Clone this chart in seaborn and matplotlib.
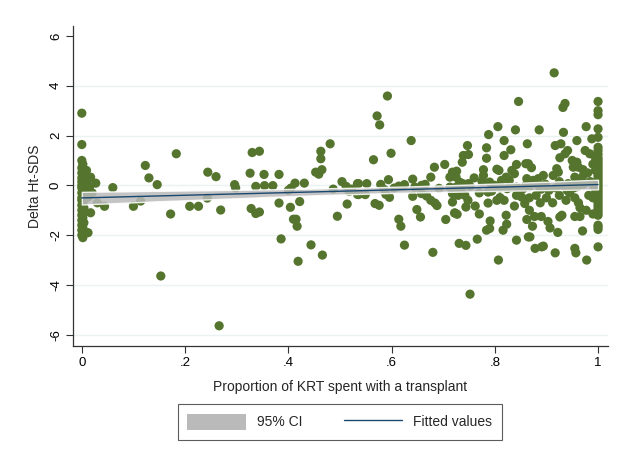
import numpy as np
import pandas as pd
import matplotlib
matplotlib.use("Agg")
import matplotlib.pyplot as plt
import seaborn as sns
from matplotlib.patches import Patch
from matplotlib.lines import Line2D

# values, grouped by region of the x axis
x_zero = [0.0, 0.0, 0.0, 0.002, 0.0, 0.004, 0.0, 0.003, 0.0, 0.005, 0.0, 0.002,
          0.0, 0.004, 0.0, 0.002, 0.006, 0.0, 0.003, 0.0, 0.005, 0.0, 0.002, 0.0,
          0.004, 0.0, 0.003, 0.0, 0.002, 0.0, 0.004, 0.0, 0.002, 0.0, 0.003, 0.0, 0.002]
y_zero = [2.9, 1.64, 1.0, 0.85, 0.7, 0.6, 0.5, 0.4, 0.3, 0.2, 0.15, 0.1,
          0.0, -0.05, -0.1, -0.2, -0.25, -0.3, -0.4, -0.5, -0.55, -0.6, -0.7, -0.8,
          -0.9, -1.0, -1.1, -1.2, -1.3, -1.4, -1.5, -1.6, -1.7, -1.8, -1.9, -2.0, -2.1]

x_low = [0.009, 0.017, 0.027, 0.015, 0.012, 0.017, 0.012, 0.03, 0.044, 0.06, 0.01, 0.02,
         0.1, 0.114, 0.123, 0.13, 0.146, 0.153, 0.172, 0.183, 0.209, 0.226, 0.243, 0.244,
         0.26, 0.269, 0.266, 0.296, 0.298, 0.326, 0.33, 0.344, 0.337, 0.328, 0.337, 0.344,
         0.353, 0.354, 0.37, 0.382, 0.382, 0.386, 0.4, 0.405, 0.404, 0.413, 0.422, 0.41,
         0.415, 0.417, 0.419, 0.431, 0.444, 0.466, 0.453, 0.459, 0.465, 0.463, 0.463, 0.481,
         0.487, 0.495, 0.504, 0.512, 0.518, 0.523, 0.514, 0.534, 0.534]
y_low = [0.6, 0.33, 0.09, -0.07, -0.47, -1.1, -1.9, -0.7, -0.84, -0.09, 0.15, -0.3,
         -0.84, -0.63, 0.8, 0.3, 0.03, -3.64, -1.15, 1.27, -0.84, -0.84, -0.51, 0.53,
         0.35, -0.99, -5.64, 0.03, -0.1, 0.49, 1.32, 1.37, -0.04, -0.93, -1.13, -1.07,
         0.44, -0.01, -0.01, 0.44, -0.71, -2.15, -0.2, -0.11, -0.88, 0.09, -0.65, -1.36,
         -1.36, -1.64, -3.05, 0.09, -2.39, -2.8, 0.53, 0.45, 0.63, 1.37, 1.07, 1.67,
         -0.15, -1.24, 0.15, -0.04, -0.24, -0.15, -0.75, 0.07, -0.36]

x_mid = [0.592, 0.572, 0.577, 0.638, 0.565, 0.599, 0.536, 0.552, 0.536, 0.549, 0.568, 0.576,
         0.579, 0.586, 0.594, 0.589, 0.596, 0.605, 0.614, 0.625, 0.614, 0.618, 0.625, 0.641,
         0.641, 0.645, 0.649, 0.656, 0.658, 0.665, 0.658, 0.668, 0.676, 0.684, 0.688, 0.68,
         0.676, 0.683, 0.703, 0.692, 0.713, 0.718, 0.713, 0.718, 0.718, 0.705, 0.722]
y_mid = [3.59, 2.79, 2.43, 1.8, 1.03, 1.29, 0.07, 0.07, -0.37, -0.37, -0.73, -0.8,
         0.04, -0.17, 0.23, -0.36, -0.48, -0.11, -0.03, 0.03, -1.36, -1.64, -2.4, 0.25,
         -0.44, -0.07, -0.97, -1.27, 0.0, 0.04, -0.33, -0.43, -0.6, -0.71, -0.81, -2.69,
         0.33, 0.73, 0.84, -0.12, 0.33, 0.53, -0.07, -0.33, -0.67, -1.37, -1.11]

x_high = [0.846, 0.806, 0.84, 0.788, 0.863, 0.747, 0.739, 0.749, 0.737, 0.784, 0.784, 0.818,
          0.831, 0.818, 0.842, 0.86, 0.726, 0.778, 0.778, 0.775, 0.804, 0.808, 0.833, 0.838,
          0.725, 0.732, 0.738, 0.725, 0.735, 0.729, 0.742, 0.748, 0.749, 0.752, 0.723, 0.727,
          0.744, 0.762, 0.77, 0.731, 0.744, 0.766, 0.752, 0.807, 0.784, 0.791, 0.79, 0.787,
          0.794, 0.79, 0.787, 0.804, 0.81, 0.818, 0.813, 0.822, 0.828, 0.833, 0.824, 0.822,
          0.823, 0.816, 0.842, 0.848, 0.855, 0.842, 0.852, 0.858, 0.838, 0.842, 0.862, 0.865,
          0.862, 0.86, 0.76, 0.77, 0.8, 0.81]
y_high = [3.37, 2.36, 2.23, 2.04, 1.67, 1.6, 1.2, 1.24, 0.93, 1.51, 1.09, 1.8,
          1.43, 1.2, 0.84, 0.87, 0.57, 0.63, 0.4, 0.17, 0.65, 0.6, 0.6, 0.47,
          0.33, 0.13, 0.07, -0.07, -0.2, -0.4, -0.4, -0.6, 0.07, -0.04, -1.11, -1.16,
          -0.87, -0.83, -1.15, -2.33, -2.41, -2.16, -4.37, -3.0, -1.8, -1.43, -1.73, -0.27,
          -0.23, 0.13, -0.71, -0.6, -0.49, -0.6, 0.2, 0.33, 0.2, -0.07, -0.13, -1.2,
          -1.56, -1.8, -0.07, -0.27, -0.13, -0.4, -0.47, -0.73, -0.83, -2.2, -1.37, -2.07,
          0.27, 0.0, 0.3, -0.3, 0.0, -0.1]

x_top = [0.915, 0.932, 0.936, 0.886, 0.933, 0.917, 0.928, 0.977, 0.959, 0.941, 0.936, 0.926,
         0.975, 0.988, 0.984, 0.865, 0.871, 0.959, 0.962, 0.971, 0.952, 0.92, 0.923, 0.913,
         0.894, 0.884, 0.874, 0.955, 0.959, 0.942, 0.867, 0.885, 0.898, 0.905, 0.918, 0.932,
         0.94, 0.953, 0.972, 0.985, 0.992, 0.878, 0.96, 0.925, 0.89, 0.867, 0.88, 0.888,
         0.9, 0.912, 0.925, 0.938, 0.955, 0.962, 0.982, 0.99, 0.867, 0.877, 0.89, 0.903,
         0.955, 0.965, 0.977, 0.99, 0.93, 0.926, 0.873, 0.868, 0.907, 0.922, 0.97, 0.878,
         0.891, 0.894, 0.917, 0.955, 0.957, 0.978,
         0.97, 0.98, 0.945, 0.965, 0.99, 0.95]
y_top = [4.52, 3.13, 3.29, 2.23, 2.13, 1.6, 1.67, 2.36, 1.8, 1.4, 1.27, 1.11,
         1.4, 1.87, 1.27, 0.87, 0.71, 0.93, 0.73, 0.63, 0.73, 0.67, 0.53, 0.4,
         0.4, 0.27, 0.2, 0.33, 0.2, 0.07, -0.05, 0.0, 0.05, -0.2, -0.1, 0.0,
         -0.2, -0.1, 0.05, 0.15, -0.05, 0.1, -0.05, 0.15, -0.15, -0.5, -0.4, -0.7,
         -0.5, -0.7, -0.4, -0.6, -0.5, -0.7, -0.4, -0.5, -1.0, -1.25, -1.25, -1.45,
         -1.25, -1.25, -1.0, -1.15, -1.2, -1.27, -1.64, -2.07, -1.71, -1.89, -1.83, -2.53,
         -2.47, -2.44, -2.71, -2.53, -2.71, -3.0,
         0.35, 0.5, -0.3, -0.9, 0.85, 1.0]

x_one = [1.0] * 36 + [0.995, 0.995, 0.995]
y_one = [3.37, 3.0, 2.84, 2.27, 1.93, 1.53, 1.4, 1.25, 1.1, 1.0, 0.9, 0.8,
         0.7, 0.6, 0.5, 0.4, 0.3, 0.2, 0.1, 0.0, -0.1, -0.2, -0.3, -0.4,
         -0.5, -0.6, -0.7, -0.8, -0.9, -1.0, -1.1, -1.2, -1.6, -1.67, -1.77, -2.47,
         0.6, -0.3, 1.1]

x_ticks = [0, 0.2, 0.4, 0.6, 0.8, 1.0]
x_tick_labels = ["0", ".2", ".4", ".6", ".8", "1"]
y_ticks = [-6, -4, -2, 0, 2, 4, 6]

df = pd.DataFrame({
    "krt": x_zero + x_low + x_mid + x_high + x_top + x_one,
    "dhtsds": y_zero + y_low + y_mid + y_high + y_top + y_one,
})

point_color = "#55752f"
line_color = "#1a476f"
ci_color = "#bababa"

sns.set_style("white")
plt.rcParams["font.family"] = ["Liberation Sans", "DejaVu Sans"]

fig = plt.figure(figsize=(6.19, 4.57), dpi=100)
ax = fig.add_axes([0.118, 0.243, 0.864, 0.700])

for gy in [-6, -4, -2, 0, 2, 4]:
    ax.axhline(gy, color="#eaf2f3", lw=1.0, zorder=0)

sns.scatterplot(data=df, x="krt", y="dhtsds", color=point_color, s=44,
                edgecolor="none", linewidth=0, ax=ax, zorder=2)

sns.regplot(data=df, x="krt", y="dhtsds", scatter=False, ci=95, seed=0,
            color=line_color, line_kws={"lw": 1.0, "zorder": 4}, ax=ax)
band = ax.collections[-1]
band.set_facecolor(ci_color)
band.set_alpha(0.85)
band.set_zorder(3)

ax.set_xlim(-0.017, 1.019)
ax.set_ylim(-6.45, 6.4)
ax.set_xticks(x_ticks)
ax.set_xticklabels(x_tick_labels)
ax.set_yticks(y_ticks)
ax.set_yticklabels([str(v) for v in y_ticks], rotation=90, va="center")
ax.tick_params(axis="both", direction="out", length=5, width=0.8, color="#333333",
               labelsize=9.5, pad=3, bottom=True, left=True, labelcolor="black")
for side in ["top", "right"]:
    ax.spines[side].set_visible(False)
for side in ["left", "bottom"]:
    ax.spines[side].set_color("#333333")
    ax.spines[side].set_linewidth(0.9)

ax.set_xlabel("Proportion of KRT spent with a transplant", fontsize=10, labelpad=8)
ax.set_ylabel("Delta Ht-SDS", fontsize=10, labelpad=6)

handles = [Patch(facecolor=ci_color, edgecolor="none"),
           Line2D([0], [0], color=line_color, lw=1.0)]
leg = fig.legend(handles, ["95% CI", "Fitted values"], loc="center",
                 bbox_to_anchor=(0.549, 0.077), ncol=2, fancybox=False,
                 frameon=True, fontsize=10, handlelength=4.2, handleheight=1.4,
                 columnspacing=3.0, borderpad=0.7, handletextpad=0.8)
leg.get_frame().set_edgecolor("#333333")
leg.get_frame().set_linewidth(0.8)

fig.savefig("out.png", dpi=100)
